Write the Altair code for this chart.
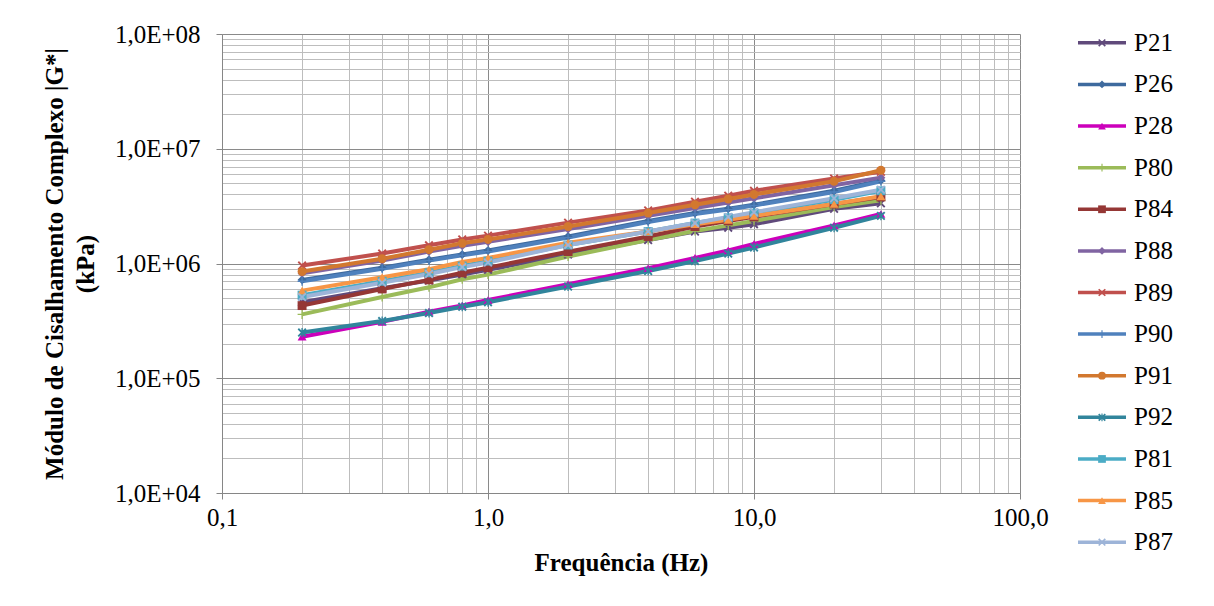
import altair as alt
import pandas as pd

freq = [0.2, 0.4, 0.6, 0.8, 1.0, 2.0, 4.0, 6.0, 8.0, 10.0, 20.0, 30.0]
series_names = ["P21", "P26", "P28", "P80", "P84", "P88", "P89", "P90", "P91", "P92", "P81", "P85", "P87"]

P21 = [4.6e5, 6.1e5, 7.1e5, 8.0e5, 8.8e5, 1.2e6, 1.6e6, 1.9e6, 2.05e6, 2.2e6, 3.0e6, 3.35e6]
P26 = [7.2e5, 9.2e5, 1.08e6, 1.2e6, 1.3e6, 1.72e6, 2.35e6, 2.75e6, 3.0e6, 3.25e6, 4.3e6, 5.3e6]
P28 = [2.3e5, 3.1e5, 3.8e5, 4.3e5, 4.8e5, 6.6e5, 9.1e5, 1.12e6, 1.3e6, 1.48e6, 2.15e6, 2.7e6]
P80 = [3.6e5, 5.1e5, 6.2e5, 7.3e5, 8.0e5, 1.15e6, 1.6e6, 1.92e6, 2.15e6, 2.35e6, 3.1e6, 3.55e6]
P84 = [4.3e5, 6.0e5, 7.2e5, 8.3e5, 9.2e5, 1.27e6, 1.72e6, 2.1e6, 2.35e6, 2.55e6, 3.3e6, 3.8e6]
P88 = [8.2e5, 1.06e6, 1.27e6, 1.43e6, 1.55e6, 2.0e6, 2.6e6, 3.05e6, 3.4e6, 3.7e6, 4.8e6, 5.6e6]
P89 = [9.6e5, 1.22e6, 1.44e6, 1.62e6, 1.75e6, 2.27e6, 2.9e6, 3.46e6, 3.9e6, 4.3e6, 5.5e6, 6.3e6]
P90 = [7.0e5, 9.0e5, 1.06e6, 1.18e6, 1.27e6, 1.68e6, 2.3e6, 2.7e6, 2.95e6, 3.2e6, 4.2e6, 5.2e6]
P91 = [8.5e5, 1.1e6, 1.32e6, 1.5e6, 1.62e6, 2.1e6, 2.75e6, 3.25e6, 3.65e6, 4.0e6, 5.2e6, 6.5e6]
P92 = [2.5e5, 3.15e5, 3.7e5, 4.2e5, 4.6e5, 6.3e5, 8.6e5, 1.05e6, 1.22e6, 1.38e6, 2.05e6, 2.6e6]
P81 = [5.3e5, 7.0e5, 8.3e5, 9.5e5, 1.05e6, 1.45e6, 1.9e6, 2.25e6, 2.5e6, 2.75e6, 3.6e6, 4.3e6]
P85 = [5.8e5, 7.6e5, 8.9e5, 1.03e6, 1.12e6, 1.52e6, 1.9e6, 2.2e6, 2.4e6, 2.6e6, 3.3e6, 3.85e6]
P87 = [5.1e5, 6.8e5, 8.1e5, 9.3e5, 1.02e6, 1.45e6, 1.9e6, 2.25e6, 2.55e6, 2.8e6, 3.7e6, 4.4e6]

all_values = [P21, P26, P28, P80, P84, P88, P89, P90, P91, P92, P81, P85, P87]

colors = ["#604A7B", "#3E6A9E", "#CC00BB", "#9BBB59", "#953735", "#8064A2", "#C0504D",
          "#4F81BD", "#D2782F", "#31859C", "#4BACC6", "#F79646", "#9DB4D8"]

X_PATH = "M-1,-0.7L-0.7,-1L0,-0.3L0.7,-1L1,-0.7L0.3,0L1,0.7L0.7,1L0,0.3L-0.7,1L-1,0.7L-0.3,0Z"
PLUS_PATH = "M-0.15,-1H0.15V-0.15H1V0.15H0.15V1H-0.15V0.15H-1V-0.15H-0.15Z"
AST_PATH = X_PATH + "M-0.15,-1H0.15V1H-0.15Z"
shapes = [X_PATH, "diamond", "triangle-up", PLUS_PATH, "square", "diamond", X_PATH,
          PLUS_PATH, "circle", AST_PATH, "square", "triangle-up", X_PATH]

x_ticks = [k * d for d in [0.1, 1, 10] for k in range(1, 10)] + [100]
y_ticks = [k * d for d in [1e4, 1e5, 1e6, 1e7] for k in range(1, 10)] + [1e8]

rows = []
for name, vals in zip(series_names, all_values):
    for f, v in zip(freq, vals):
        rows.append({"serie": name, "freq": f, "g": v})
df = pd.DataFrame(rows)

major = "abs(log(datum.value)/LN10 - round(log(datum.value)/LN10)) < 0.001"
MAJOR_GRID = "#8A8A8A"
MINOR_GRID = "#BDBDBD"
AXIS_COL = "#868686"
FONT = "Liberation Serif"

x_axis = alt.Axis(
    values=x_ticks,
    labelExpr=f"({major}) ? replace(format(datum.value, '.1f'), '.', ',') : ''",
    grid=True,
    gridColor={"condition": {"test": major, "value": MAJOR_GRID}, "value": MINOR_GRID},
    tickColor={"condition": {"test": major, "value": AXIS_COL}, "value": "transparent"},
    tickSize=6,
    labelPadding=6,
    labelOverlap=False,
    labelFlush=False,
    titlePadding=20,
    domainColor=AXIS_COL,
)
y_axis = alt.Axis(
    values=y_ticks,
    labelExpr=f"({major}) ? '1,0E+0' + format(log(datum.value)/LN10, '.0f') : ''",
    grid=True,
    gridColor={"condition": {"test": major, "value": MAJOR_GRID}, "value": MINOR_GRID},
    tickColor={"condition": {"test": major, "value": AXIS_COL}, "value": "transparent"},
    tickSize=6,
    labelPadding=16,
    labelOverlap=False,
    labelFlush=False,
    titlePadding=16,
    titleLineHeight=31,
    domainColor=AXIS_COL,
)

cscale = alt.Scale(domain=series_names, range=colors)
sscale = alt.Scale(domain=series_names, range=shapes)

base = alt.Chart(df).encode(
    x=alt.X("freq:Q", scale=alt.Scale(type="log", domain=[0.1, 100], nice=False),
            axis=x_axis, title="Frequência (Hz)"),
    y=alt.Y("g:Q", scale=alt.Scale(type="log", domain=[1e4, 1e8], nice=False),
            axis=y_axis, title=["Módulo de Cisalhamento Complexo |G*|", "(kPa)"]),
    color=alt.Color("serie:N", scale=cscale, legend=None),
)
lines = base.mark_line(strokeWidth=4).encode(order=alt.Order("freq:Q"))
points = base.mark_point(filled=True, opacity=1, size=80).encode(
    shape=alt.Shape("serie:N", scale=sscale, legend=None))
main = alt.layer(lines, points).properties(width=798, height=459)

leg_df = pd.DataFrame({"serie": series_names})
leg_y = alt.Y("serie:N", sort=series_names, axis=None,
              scale=alt.Scale(range=[-12, 529]))
leg_color = alt.Color("serie:N", scale=cscale, legend=None)
leg_rule = alt.Chart(leg_df).mark_rule(strokeWidth=3.5).encode(
    y=leg_y, color=leg_color, x=alt.value(0), x2=alt.value(48))
leg_pt = alt.Chart(leg_df).mark_point(filled=True, opacity=1, size=60).encode(
    y=leg_y, color=leg_color, x=alt.value(24),
    shape=alt.Shape("serie:N", scale=sscale, legend=None))
leg_txt = alt.Chart(leg_df).mark_text(align="left", baseline="middle", font=FONT,
                                      fontSize=25, color="black").encode(
    y=leg_y, x=alt.value(56), text="serie:N")
legend = alt.layer(leg_rule, leg_pt, leg_txt).properties(width=110, height=520)

chart = alt.hconcat(main, legend, spacing=27).resolve_scale(
    x="independent", y="independent"
).properties(
    padding={"left": 34, "top": 14, "right": 5, "bottom": 5}
).configure_view(stroke=None).configure_axis(
    labelFont=FONT, labelFontSize=25, labelColor="black",
    titleFont=FONT, titleFontSize=25, titleFontWeight="bold", titleColor="black",
    gridWidth=1,
).configure_text(font=FONT, fontSize=25)

chart.save("out.html", embed_options={"renderer": "svg", "actions": False})
